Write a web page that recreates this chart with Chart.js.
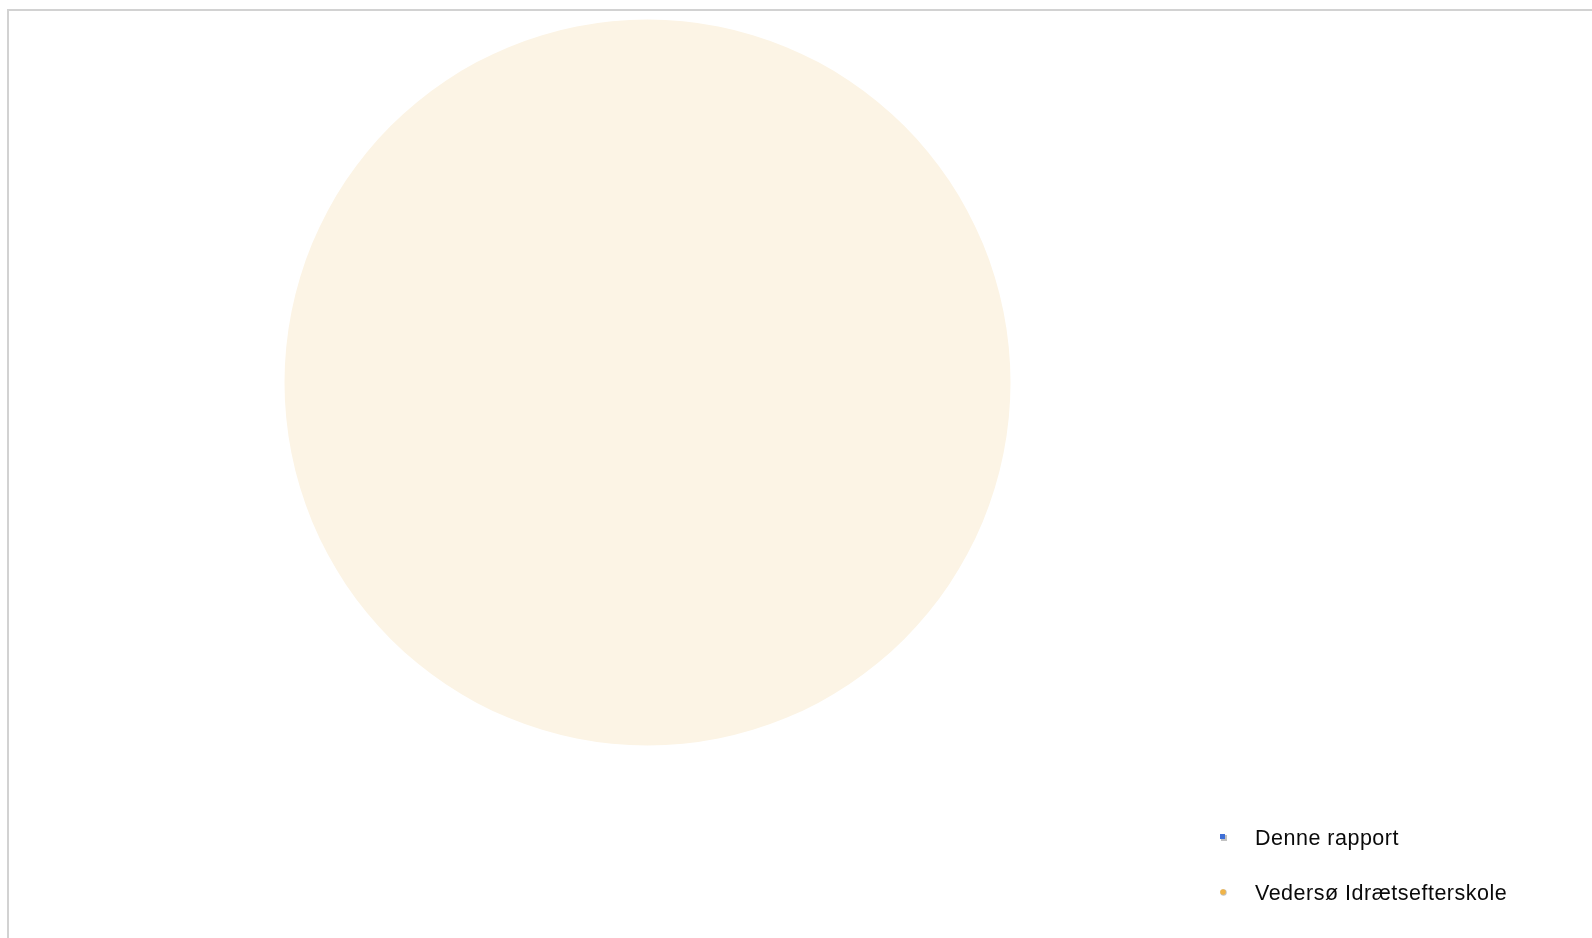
<!DOCTYPE html>
<html>
<head>
<meta charset="utf-8">
<script src="https://cdn.jsdelivr.net/npm/chart.js@4/dist/chart.umd.min.js"></script>
<style>
  html, body { margin: 0; padding: 0; background: #ffffff; width: 1592px; height: 938px; overflow: hidden; }
  #frame { position: absolute; left: 7px; top: 9px; width: 1700px; height: 1000px; border-top: 2px solid #d2d2d2; border-left: 2px solid #d2d2d2; box-sizing: border-box; }
  #wrap { position: absolute; left: 0; top: 0; width: 1592px; height: 938px; }
</style>
</head>
<body>
<div id="frame"></div>
<div id="wrap"><canvas id="c" width="1592" height="938"></canvas></div>
<script>
const categories = ['Denne rapport', 'Vedersø Idrætsefterskole'];
const values = [0, 100];
const sliceColors = ['#4A78D8', '#FCF4E5'];
const markerColors = ['#3F6FD6', '#F0B448'];
const markerShapes = ['rect', 'circle'];

const legendPlugin = {
  id: 'customLegend',
  afterDraw(chart) {
    const ctx = chart.ctx;
    ctx.save();
    const x0 = 1223, tx = 1255, baseY = 845, step = 55;
    categories.forEach((label, i) => {
      const y = baseY + i * step;
      const cy = y - 8;
      ctx.fillStyle = 'rgba(120,120,120,0.45)';
      if (markerShapes[i] === 'rect') {
        ctx.fillRect(x0 - 2, cy - 2, 6, 6);
        ctx.fillStyle = markerColors[i];
        ctx.fillRect(x0 - 3, cy - 3, 5, 5);
      } else {
        ctx.beginPath(); ctx.arc(x0 + 0.5, cy + 0.5, 3.2, 0, Math.PI * 2); ctx.fill();
        ctx.fillStyle = markerColors[i];
        ctx.beginPath(); ctx.arc(x0, cy, 2.8, 0, Math.PI * 2); ctx.fill();
      }
      ctx.fillStyle = '#0a0a0a';
      ctx.font = '21.5px "Liberation Sans", Arial, sans-serif';
      if ('letterSpacing' in ctx) ctx.letterSpacing = '0.5px';
      ctx.textBaseline = 'alphabetic';
      ctx.textAlign = 'left';
      ctx.fillText(label, tx, y);
    });
    ctx.restore();
  }
};

new Chart(document.getElementById('c'), {
  type: 'pie',
  data: {
    labels: categories,
    datasets: [{
      data: values,
      backgroundColor: sliceColors,
      borderWidth: 0
    }]
  },
  options: {
    responsive: false,
    animation: false,
    layout: { padding: { left: 284.5, right: 581.5, top: 19.5, bottom: 192.5 } },
    plugins: {
      legend: { display: false },
      tooltip: { enabled: false },
      title: { display: false }
    }
  },
  plugins: [legendPlugin]
});
</script>
</body>
</html>
